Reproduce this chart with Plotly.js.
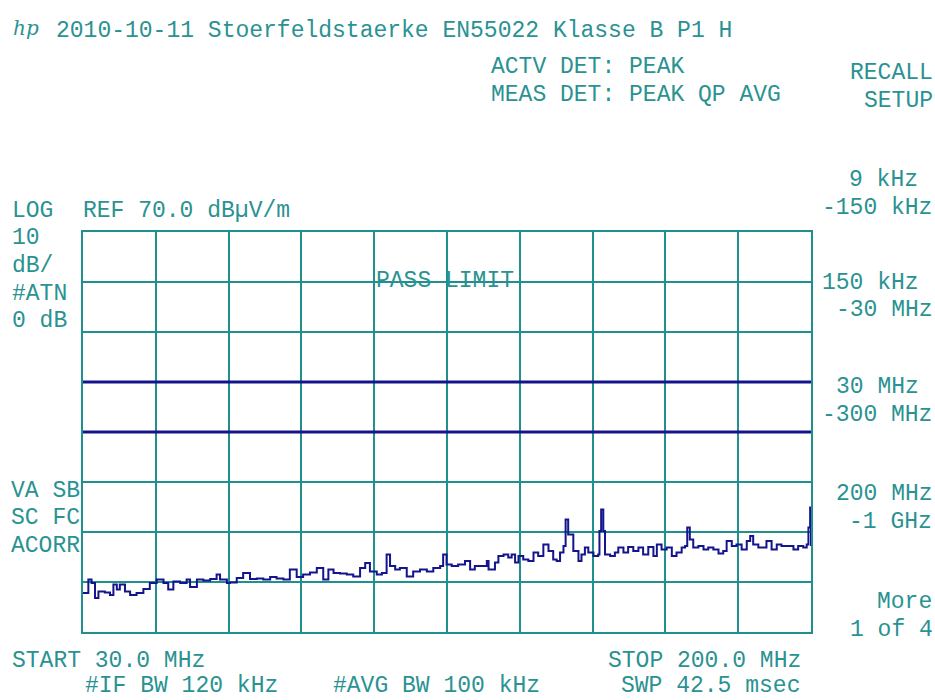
<!DOCTYPE html>
<html>
<head>
<meta charset="utf-8">
<script src="https://cdn.plot.ly/plotly-3.0.1.min.js"></script>
<style>
html,body{margin:0;padding:0;background:#fff;}
#chart{width:935px;height:700px;}
</style>
</head>
<body>
<div id="chart"></div>
<script>
// ---- data ----
var freqMHz = [30.0,31.25,32.0,32.8,33.6,35.1,36.3,37.1,37.9,38.6,39.8,41.0,42.5,44.1,45.6,47.2,48.8,49.9,51.1,52.7,54.2,55.0,56.6,58.1,59.7,61.2,62.0,63.6,64.3,65.9,67.4,69.0,70.6,72.1,73.7,75.2,76.8,78.3,79.9,81.4,83.0,84.6,86.1,87.3,88.5,90.0,91.6,93.1,94.7,95.9,97.0,98.6,99.8,100.9,101.7,102.9,104.0,105.6,107.1,108.7,110.3,111.8,113.4,114.1,
  114.9,116.1,117.6,119.2,120.4,121.5,123.1,124.3,124.7,126.2,127.0,128.2,129.3,130.1,130.9,131.7,132.8,134.0,135.2,136.3,137.5,138.7,139.8,140.6,141.4,142.2,142.7,143.3,144.5,145.7,146.4,147.2,148.0,149.2,150.3,150.6,151.0,151.5,151.9,153.1,154.2,155.0,156.2,157.3,158.5,159.7,160.8,162.0,163.2,164.0,165.1,166.3,167.5,168.6,169.8,170.6,171.1,171.7,172.5,173.7,174.9,176.0,177.2,178.4,179.5,180.3,181.5,182.6,183.8,185.0,185.8,186.5,187.7,188.5,189.6,190.8,192.0,193.1,194.7,195.9,197.0,198.2,199.0,199.4,199.8,200.0];
var levelDb = [-2.2,0.5,-0.2,-3.2,-1.9,-2.1,-2.6,-0.5,-1.5,-0.5,-1.9,-2.6,-2.2,-1.4,-0.2,0.5,-0.2,-1.5,0.1,-0.2,0.5,-1.0,0.5,0.3,0.6,1.5,0.5,-0.2,-0.1,0.8,1.8,0.6,0.7,0.5,1.0,0.7,0.5,2.5,1.0,1.5,1.9,2.8,0.5,2.5,1.8,1.7,1.5,1.1,2.8,3.8,2.1,1.5,1.8,5.5,3.2,2.5,2.8,1.1,2.1,2.5,2.1,2.8,3.2,5.5,
  3.5,3.2,3.5,4.2,2.5,3.2,3.2,4.2,2.5,3.9,5.2,5.5,4.9,5.5,3.9,5.2,4.5,4.2,5.9,5.2,7.5,6.2,4.5,4.2,5.9,7.2,12.5,9.5,6.2,4.2,5.5,6.9,5.9,5.2,5.5,10.2,14.5,10.2,5.5,5.2,5.9,6.9,5.9,7.0,6.2,6.9,5.5,7.0,5.2,7.5,6.5,6.9,5.2,5.9,6.9,7.2,10.9,8.5,6.9,7.2,6.5,6.9,6.5,5.7,6.2,8.2,7.2,7.5,6.5,8.2,9.2,7.5,6.9,6.9,8.2,6.5,7.5,7.2,7.2,6.5,7.2,6.9,7.5,10.9,14.9,7.2];
var limitFreq = [30, 200];
var limitUpper = [40, 40];
var limitLower = [30, 30];
var refLevel = 70;      // dBµV/m, top of screen
var dbPerDiv = 10;
var divsY = 8;
var divsX = 10;

var titleText = "2010-10-11 Stoerfeldstaerke EN55022 Klasse B P1 H";

// ---- layout helpers ----
var L = 83, R = 811, T = 232, B = 632;
function px(x){ return (x - L) / (R - L); }
function py(y){ return (B - y) / (B - T); }
var TEAL = "#1f8f8f";
var TXT = "#2a9292";
var NAVY = "#14148c";
var FONT = "Liberation Mono, Courier New, monospace";

var texts = [
  [55, 31, titleText],
  [490, 67, "ACTV DET: PEAK"],
  [490, 95, "MEAS DET: PEAK QP AVG"],
  [849, 73, "RECALL"],
  [863, 101, "SETUP"],
  [848, 180, "9 kHz"],
  [821, 208, "-150 kHz"],
  [821, 283, "150 kHz"],
  [835, 310, "-30 MHz"],
  [835, 387, "30 MHz"],
  [821, 415, "-300 MHz"],
  [835, 494, "200 MHz"],
  [848, 522, "-1 GHz"],
  [876, 602, "More"],
  [849, 630, "1 of 4"],
  [11, 211, "LOG"],
  [82, 211, "REF 70.0 dBµV/m"],
  [11, 238, "10"],
  [11, 266, "dB/"],
  [11, 294, "#ATN"],
  [11, 321, "0 dB"],
  [10, 491, "VA SB"],
  [10, 518, "SC FC"],
  [10, 546, "ACORR"],
  [375, 281, "PASS LIMIT"],
  [11, 661, "START 30.0 MHz"],
  [607, 661, "STOP 200.0 MHz"],
  [84, 686, "#IF BW 120 kHz"],
  [332, 686, "#AVG BW 100 kHz"],
  [620, 686, "SWP 42.5 msec"]
];

var annotations = texts.map(function(t){
  return {
    xref: "paper", yref: "paper", x: px(t[0]), y: py(t[1]),
    xanchor: "left", yanchor: "middle", showarrow: false,
    text: t[2], borderpad: 0,
    font: {family: FONT, size: 23, color: TXT}
  };
});
annotations.push({
  xref: "paper", yref: "paper", x: px(11), y: py(28),
  xanchor: "left", yanchor: "middle", showarrow: false, text: "<i>hp</i>",
  font: {family: "DejaVu Serif, serif", size: 20, color: TXT}
});

var traces = [
  {x: limitFreq, y: limitUpper, mode: "lines", line: {color: NAVY, width: 3}, hoverinfo: "skip"},
  {x: limitFreq, y: limitLower, mode: "lines", line: {color: NAVY, width: 3}, hoverinfo: "skip"},
  {x: freqMHz, y: levelDb, mode: "lines", line: {color: NAVY, width: 2, shape: "hv"}, hoverinfo: "skip"}
];

var layout = {
  width: 935, height: 700,
  paper_bgcolor: "#ffffff", plot_bgcolor: "#ffffff",
  margin: {l: L, r: 935 - R, t: T, b: 700 - B, pad: 0},
  showlegend: false,
  xaxis: {
    range: [30, 200], tick0: 30, dtick: (200 - 30) / divsX, tickmode: "linear",
    showgrid: true, gridcolor: TEAL, gridwidth: 2,
    showticklabels: false, ticks: "", zeroline: false,
    showline: true, mirror: true, linecolor: TEAL, linewidth: 2, fixedrange: true
  },
  yaxis: {
    range: [refLevel - dbPerDiv * divsY, refLevel], tick0: refLevel - dbPerDiv * divsY, dtick: dbPerDiv, tickmode: "linear",
    showgrid: true, gridcolor: TEAL, gridwidth: 2,
    showticklabels: false, ticks: "", zeroline: false,
    showline: true, mirror: true, linecolor: TEAL, linewidth: 2, fixedrange: true
  },
  annotations: annotations
};

Plotly.newPlot("chart", traces, layout, {displayModeBar: false, staticPlot: true});
</script>
</body>
</html>
